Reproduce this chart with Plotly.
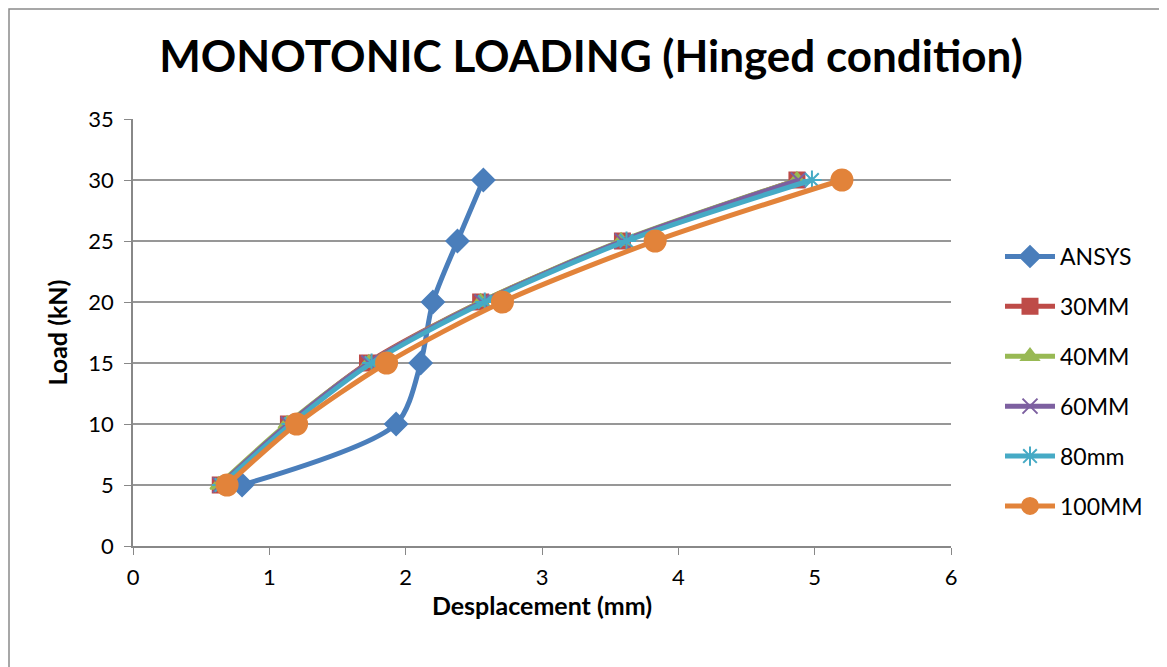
import plotly.graph_objects as go

loads = [5, 10, 15, 20, 25, 30]
ansys = [0.80, 1.93, 2.11, 2.20, 2.38, 2.57]
mm30 = [0.64, 1.14, 1.72, 2.55, 3.59, 4.87]
mm40 = [0.63, 1.13, 1.73, 2.55, 3.58, 4.87]
mm60 = [0.64, 1.14, 1.73, 2.56, 3.59, 4.88]
mm80 = [0.65, 1.16, 1.75, 2.58, 3.62, 4.98]
mm100 = [0.69, 1.20, 1.86, 2.71, 3.83, 5.20]

series = [
    ("ANSYS", ansys, "#4A7EBB", "diamond", 17),
    ("30MM", mm30, "#BE4B48", "square", 15),
    ("40MM", mm40, "#98B954", "triangle-up", 15),
    ("60MM", mm60, "#7D60A0", "x-thin-open", 15),
    ("80mm", mm80, "#46AAC5", "asterisk-open", 16),
    ("100MM", mm100, "#E2833A", "circle", 21),
]

FONT = "Lato"
fig = go.Figure()
for name, xs, col, sym, sz in series:
    fig.add_trace(go.Scatter(
        x=xs, y=loads, name=name, mode="lines+markers",
        line=dict(color=col, width=5, shape="spline", smoothing=0.8),
        marker=dict(symbol=sym, size=sz, color=col, line=dict(color=col, width=2)),
        legendgroup=name,
    ))

W, H = 1167, 667
OFF = 8  # page body margin
# target plot area in screenshot pixels
X0, X1, Y0, Y1 = 133, 951, 119, 546
L = X0 - OFF
R = W - X1 + OFF
T = Y0 - OFF
B = H - Y1 + OFF
pw, ph = X1 - X0, Y1 - Y0

def px_x(p):
    return (p - X0) / pw

def px_y(p):
    return (Y1 - p) / ph

fig.update_layout(
    width=W, height=H,
    margin=dict(l=L, r=R, t=T, b=B),
    paper_bgcolor="white", plot_bgcolor="white",
    font=dict(family=FONT, color="black", size=22),
    title=dict(text="<b>MONOTONIC LOADING (Hinged condition)</b>",
               x=(591 - OFF) / W, xref="container", xanchor="center",
               y=1 - (57 - OFF) / H, yref="container", yanchor="middle",
               font=dict(size=44, family=FONT)),
    xaxis=dict(range=[0, 6], dtick=1, showgrid=False, zeroline=False,
               showline=True, linecolor="#888888", linewidth=1.5,
               ticks="outside", ticklen=7, tickcolor="#888888",
               tickfont=dict(size=22), ticklabelstandoff=4,
               title=dict(text="<b>Desplacement (mm)</b>", font=dict(size=25), standoff=4)),
    yaxis=dict(range=[0, 35], dtick=5, showgrid=True, gridcolor="#979797", gridwidth=1.5,
               zeroline=False, showline=True, linecolor="#888888", linewidth=1.5,
               ticks="outside", ticklen=7, tickcolor="#888888",
               tickfont=dict(size=22), ticklabelstandoff=6,
               title=dict(text="<b>Load (kN)</b>", font=dict(size=25), standoff=14)),
    legend=dict(x=px_x(1000), xanchor="left", y=px_y(235), yanchor="top",
                font=dict(size=23), tracegroupgap=17, traceorder="grouped",
                itemwidth=50, bgcolor="rgba(0,0,0,0)"),
    shapes=[dict(type="rect", xref="paper", yref="paper",
                 x0=px_x(9), x1=px_x(1160), y0=px_y(700), y1=px_y(9),
                 line=dict(color="#8a8a8a", width=1.5), layer="below")],
)

fig.write_html("out.html")
